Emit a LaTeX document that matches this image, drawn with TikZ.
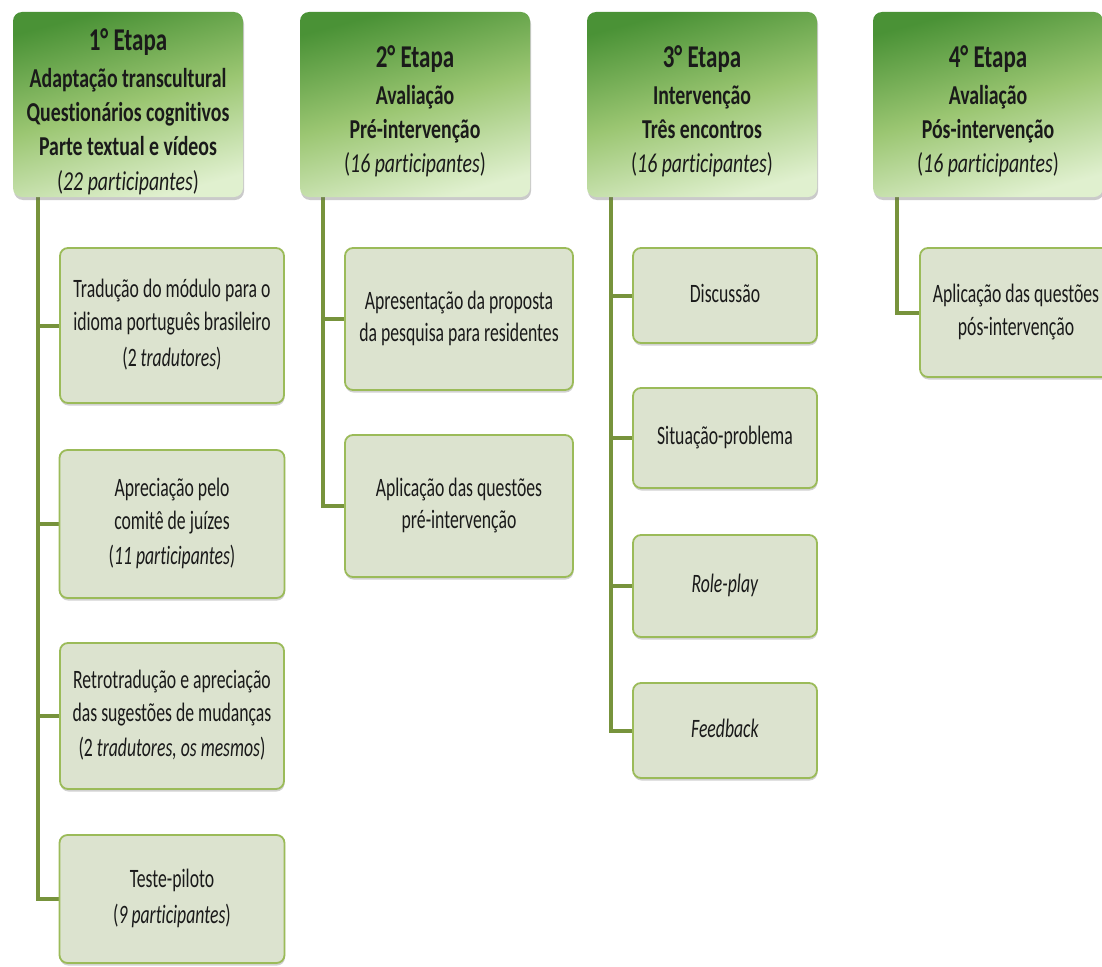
\documentclass[tikz,border=0pt]{standalone}
\usepackage{fontspec}
\setmainfont{Carlito}[Ligatures={CommonOff,ContextualOff,RareOff}]
\usepackage{graphicx}
\usetikzlibrary{shadows,backgrounds}
\definecolor{hdrTop}{HTML}{4A9236}
\definecolor{hdrMid}{HTML}{9BC672}
\definecolor{hdrBot}{HTML}{E0F0CF}
\definecolor{boxFill}{HTML}{DCE3CF}
\definecolor{boxLine}{HTML}{9BBB59}
\definecolor{connCol}{HTML}{77933C}
\definecolor{txt}{HTML}{1A1A1A}
\newcommand{\ctext}[1]{\scalebox{1}[1.5]{\fontsize{17.7}{21.7}\selectfont\begin{tabular}{@{}c@{}}#1\end{tabular}}}
\newcommand{\htext}[2]{\scalebox{1}[1.38]{\fontsize{19.8}{24.9}\selectfont\begin{tabular}{@{}c@{}}{\fontsize{23}{26}\selectfont\bfseries #1}\\[1.5pt] #2\end{tabular}}}
\tikzset{
  hdr/.style={rounded corners=9pt, minimum width=230pt, minimum height=185pt, inner sep=0pt,
    top color=hdrTop, bottom color=hdrBot, middle color=hdrMid, shading angle=15,
    drop shadow={shadow xshift=1pt, shadow yshift=-3pt, opacity=0.35, fill=black!60}},
  hdrtxt/.style={inner sep=0pt, text=txt},
  child/.style={rounded corners=8pt, draw=boxLine, line width=1.8pt, fill=boxFill, inner sep=0pt, text=txt,
    drop shadow={shadow xshift=0.5pt, shadow yshift=-2.5pt, opacity=0.3, fill=black!60}},
  conn/.style={draw=connCol, line width=4pt},
}
\begin{document}
\begin{tikzpicture}[x=1pt,y=-1pt]
\useasboundingbox (0,0) rectangle (1102,966);
\clip (0,0) rectangle (1102,966);
% headers
\node[hdr] (h1) at (128,104.5) {};
\node[hdr] (h2) at (415,104.5) {};
\node[hdr] (h3) at (702,104.5) {};
\node[hdr] (h4) at (988,104.5) {};
\node[hdrtxt] (h1t) at ([yshift=-9pt]h1.center) {\htext{1° Etapa}{\textbf{Adaptação transcultural}\\\textbf{Questionários cognitivos}\\\textbf{Parte textual e vídeos}\\(\textit{22 participantes})}};
\node[hdrtxt] (h2t) at ([yshift=-9pt]h2.center) {\htext{2° Etapa}{\textbf{Avaliação}\\\textbf{Pré-intervenção}\\(\textit{16 participantes})}};
\node[hdrtxt] (h3t) at ([yshift=-9pt]h3.center) {\htext{3° Etapa}{\textbf{Intervenção}\\\textbf{Três encontros}\\(\textit{16 participantes})}};
\node[hdrtxt] (h4t) at ([yshift=-9pt]h4.center) {\htext{4° Etapa}{\textbf{Avaliação}\\\textbf{Pós-intervenção}\\(\textit{16 participantes})}};
% column 1
\node[child, minimum width=224pt, minimum height=155pt] (a) at (172,325.5) {\ctext{Tradução do módulo para o\\idioma português brasileiro\\[2pt](2 \textit{tradutores})}};
\node[child, minimum width=225pt, minimum height=148pt] (b) at (172,524) {\ctext{Apreciação pelo\\comitê de juízes\\[2pt](\textit{11 participantes})}};
\node[child, minimum width=224pt, minimum height=146pt] (c) at (172,716) {\ctext{Retrotradução e apreciação\\das sugestões de mudanças\\[2pt](2 \textit{tradutores, os mesmos})}};
\node[child, minimum width=225pt, minimum height=128pt] (d) at (172,899) {\ctext{Teste-piloto\\[2pt](\textit{9 participantes})}};
% column 2
\node[child, minimum width=228pt, minimum height=142pt] (e) at (459,319) {\ctext{Apresentação da proposta\\da pesquisa para residentes}};
\node[child, minimum width=228pt, minimum height=142pt] (f) at (459,506) {\ctext{Aplicação das questões\\pré-intervenção}};
% column 3
\node[child, minimum width=184pt, minimum height=95pt] (g) at (725,295.5) {\ctext{Discussão}};
\node[child, minimum width=184pt, minimum height=100pt] (h) at (725,438) {\ctext{Situação-problema}};
\node[child, minimum width=184pt, minimum height=102pt] (i) at (725,586) {\ctext{\textit{Role-play}}};
\node[child, minimum width=184pt, minimum height=95pt] (j) at (725,730.5) {\ctext{\textit{Feedback}}};
% column 4
\node[child, minimum width=192pt, minimum height=129pt] (k) at (1016,312.5) {\ctext{Aplicação das questões\\pós-intervenção}};
% connectors
\begin{scope}[on background layer]
\draw[conn] ([xshift=25pt]h1.south west) |- (a.west);
\draw[conn] ([xshift=25pt]h1.south west) |- (b.west);
\draw[conn] ([xshift=25pt]h1.south west) |- (c.west);
\draw[conn] ([xshift=25pt]h1.south west) |- (d.west);
\draw[conn] ([xshift=23pt]h2.south west) |- (e.west);
\draw[conn] ([xshift=23pt]h2.south west) |- (f.west);
\draw[conn] ([xshift=24pt]h3.south west) |- (g.west);
\draw[conn] ([xshift=24pt]h3.south west) |- (h.west);
\draw[conn] ([xshift=24pt]h3.south west) |- (i.west);
\draw[conn] ([xshift=24pt]h3.south west) |- (j.west);
\draw[conn] ([xshift=24pt]h4.south west) |- (k.west);
\end{scope}
\end{tikzpicture}
\end{document}
